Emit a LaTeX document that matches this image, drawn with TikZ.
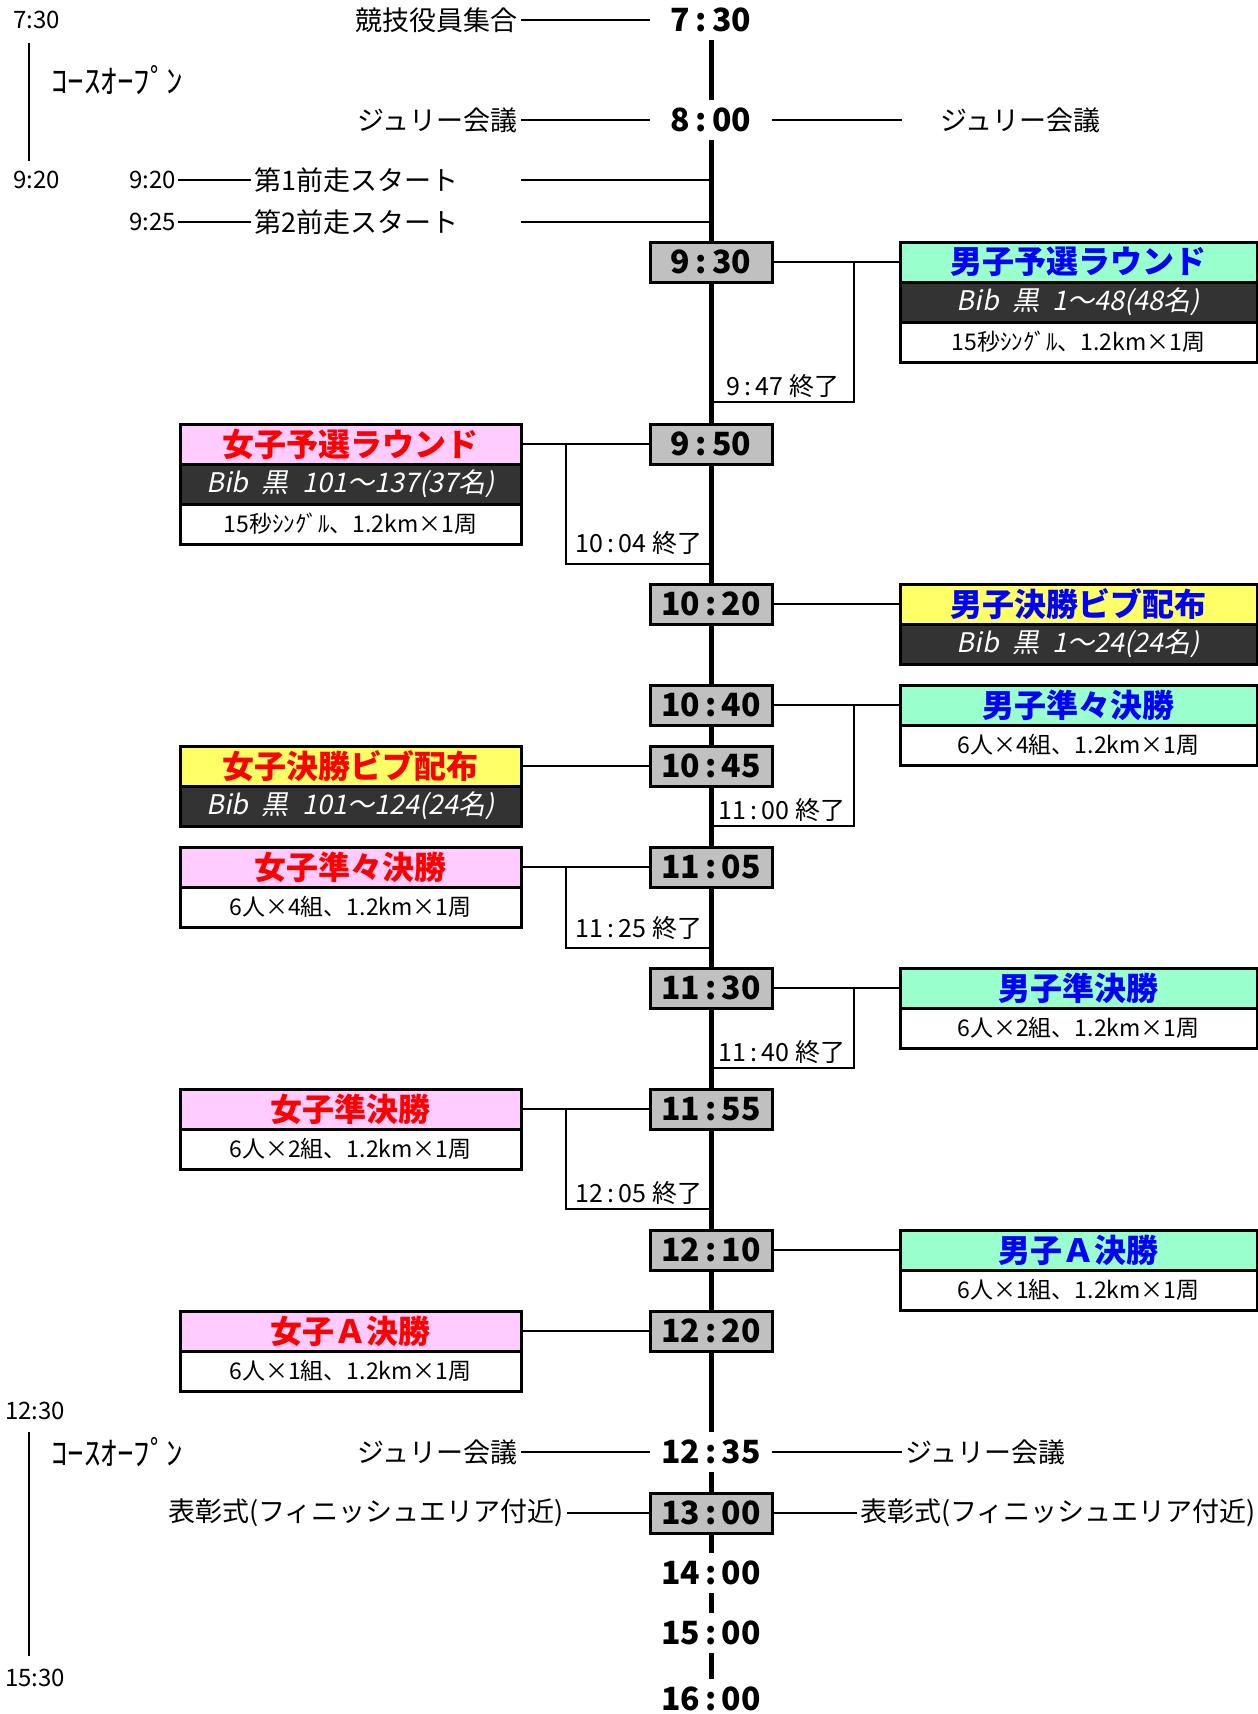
\documentclass[tikz,border=0pt]{standalone}
\usepackage{fontspec}
\setmainfont{Noto Sans CJK JP}
\newfontfamily\bibfont{Noto Sans CJK JP}[FakeSlant=0.2]
\usetikzlibrary{positioning,backgrounds}
\definecolor{boxgray}{HTML}{C0C0C0}
\definecolor{menfill}{HTML}{99FFCC}
\definecolor{womenfill}{HTML}{FFCCFF}
\definecolor{bibyellow}{HTML}{FFFF66}
\definecolor{bibdark}{HTML}{333333}
\definecolor{menblue}{HTML}{0000FF}
\definecolor{womenred}{HTML}{FF0000}

\begin{document}
\begin{tikzpicture}[x=1pt, y=-1pt,
  tlbl/.style={minimum width=122pt, minimum height=40pt, inner sep=0pt, font=\fontsize{32}{36}\selectfont\bfseries},
  tbox/.style={tlbl, draw, line width=3pt, fill=boxgray},
  row/.style={draw, line width=3pt, minimum height=40pt, inner sep=0pt, outer sep=0pt},
  rrow/.style={row, minimum width=357pt},
  lrow/.style={row, minimum width=341pt},
  ttl/.style={font=\fontsize{32}{36}\selectfont\bfseries},
  mtx/.style={text=menblue}, wtx/.style={text=womenred},
  mint/.style={fill=menfill}, pink/.style={fill=womenfill}, ylw/.style={fill=bibyellow},
  bib/.style={fill=bibdark, text=white, font=\fontsize{27}{30}\bibfont},
  det/.style={fill=white, font=\fontsize{23}{26}\selectfont},
  side/.style={inner sep=3pt, font=\fontsize{27}{30}\selectfont},
  lanelbl/.style={inner sep=0pt, font=\fontsize{24}{28}\selectfont},
  open/.style={inner sep=0pt, font=\fontsize{33}{36}\selectfont},
  done/.style={inner sep=1pt, font=\fontsize{25}{28}\selectfont},
  cn/.style={line width=2.5pt},
  br/.style={line width=2.2pt},
  lane/.style={line width=2pt},
  spine/.style={line width=5pt}]
\useasboundingbox (0,0) rectangle (1258,1714);
% the time axis
\node[tlbl] (t730) at (711,20) {7\,:\,30};
\node[tlbl] (t800) at (711,120) {8\,:\,00};
\node[tbox] (t930) at (711,262) {9\,:\,30};
\node[tbox] (t950) at (711,444) {9\,:\,50};
\node[tbox] (t1020) at (711,604) {10\,:\,20};
\node[tbox] (t1040) at (711,705) {10\,:\,40};
\node[tbox] (t1045) at (711,766) {10\,:\,45};
\node[tbox] (t1105) at (711,867) {11\,:\,05};
\node[tbox] (t1130) at (711,988) {11\,:\,30};
\node[tbox] (t1155) at (711,1109) {11\,:\,55};
\node[tbox] (t1210) at (711,1250) {12\,:\,10};
\node[tbox] (t1220) at (711,1331) {12\,:\,20};
\node[tlbl] (t1235) at (711,1452) {12\,:\,35};
\node[tbox] (t1300) at (711,1513) {13\,:\,00};
\node[tlbl] (t1400) at (711,1573) {14\,:\,00};
\node[tlbl] (t1500) at (711,1633) {15\,:\,00};
\node[tlbl] (t1600) at (711,1699) {16\,:\,00};
\begin{scope}[on background layer]
\draw[spine] (t730.south) -- (t800.north);
\draw[spine] (t800.south) -- (t1235.north);
\draw[spine] (t1235.south) -- (t1300.north);
\draw[spine] (t1300.south) -- (t1400.north);
\draw[spine] (t1400.south) -- (t1500.north);
\draw[spine] (t1500.south) -- (t1600.north);
\end{scope}
% course open, left margin
\node[lanelbl, anchor=west] (l730) at (13,20) {7:30};
\node[lanelbl, anchor=west] (l920) at (13,180) {9:20};
\node[lanelbl, anchor=west] (l1230) at (5,1411) {12:30};
\node[lanelbl, anchor=west] (l1530) at (5,1678) {15:30};
\node[open, anchor=west] (c1) at (51,80) {ｺｰｽｵｰﾌﾟﾝ};
\node[open, anchor=west] (c2) at (51,1452) {ｺｰｽｵｰﾌﾟﾝ};
\draw[lane, shorten <=14pt, shorten >=10pt] ([xshift=16pt]l730.south west) -- ([xshift=16pt]l920.north west);
\draw[lane, shorten <=12pt, shorten >=13pt] ([xshift=24pt]l1230.south west) -- ([xshift=24pt]l1530.north west);
% officials, jury, fore-runners
\node[side, anchor=east] (kyogi) at (521,20) {競技役員集合};
\draw[cn] (kyogi) -- (t730);
\node[side, anchor=east] (jl1) at (521,120) {ジュリー会議};
\node[side, anchor=west] (jr1) at (937,120) {ジュリー会議};
\draw[cn] (jl1) -- (t800);
\draw[cn, shorten >=35pt] (t800) -- (jr1);
\node[lanelbl, inner sep=2pt, anchor=east] (p1t) at (178,180) {9:20};
\node[side, anchor=west] (p1) at (251,180) {第1前走スタート};
\draw[cn] (p1t) -- (p1);
\coordinate (p1e) at (521,180);
\draw[cn] (p1e) -- (p1e -| t800);
\node[lanelbl, inner sep=2pt, anchor=east] (p2t) at (178,222) {9:25};
\node[side, anchor=west] (p2) at (251,222) {第2前走スタート};
\draw[cn] (p2t) -- (p2);
\coordinate (p2e) at (521,222);
\draw[cn] (p2e) -- (p2e -| t800);
% men, right column
\node[rrow, ttl, mtx, mint] (m1) at (1078.5,262) {男子予選ラウンド};
\node[rrow, bib, below=0pt of m1] (m1b) {Bib\enspace 黒\enspace 1～48(48名)};
\node[rrow, det, below=0pt of m1b] (m1d) {15秒ｼﾝｸﾞﾙ、1.2km×1周};
\node[rrow, ttl, mtx, ylw] (m2) at (1078.5,604) {男子決勝ビブ配布};
\node[rrow, bib, below=0pt of m2] (m2b) {Bib\enspace 黒\enspace 1～24(24名)};
\node[rrow, ttl, mtx, mint] (m3) at (1078.5,705) {男子準々決勝};
\node[rrow, det, below=0pt of m3] (m3d) {6人×4組、1.2km×1周};
\node[rrow, ttl, mtx, mint] (m4) at (1078.5,988) {男子準決勝};
\node[rrow, det, below=0pt of m4] (m4d) {6人×2組、1.2km×1周};
\node[rrow, ttl, mtx, mint] (m5) at (1078.5,1250) {男子Ａ決勝};
\node[rrow, det, below=0pt of m5] (m5d) {6人×1組、1.2km×1周};
\draw[cn] (t930) -- (m1);
\draw[cn] (t1020) -- (m2);
\draw[cn] (t1040) -- (m3);
\draw[cn] (t1130) -- (m4);
\draw[cn] (t1210) -- (m5);
% women, left column
\node[lrow, ttl, wtx, pink] (w1) at (350.5,444) {女子予選ラウンド};
\node[lrow, bib, below=0pt of w1] (w1b) {Bib\enspace 黒\enspace 101～137(37名)};
\node[lrow, det, below=0pt of w1b] (w1d) {15秒ｼﾝｸﾞﾙ、1.2km×1周};
\node[lrow, ttl, wtx, ylw] (w2) at (350.5,766) {女子決勝ビブ配布};
\node[lrow, bib, below=0pt of w2] (w2b) {Bib\enspace 黒\enspace 101～124(24名)};
\node[lrow, ttl, wtx, pink] (w3) at (350.5,867) {女子準々決勝};
\node[lrow, det, below=0pt of w3] (w3d) {6人×4組、1.2km×1周};
\node[lrow, ttl, wtx, pink] (w4) at (350.5,1109) {女子準決勝};
\node[lrow, det, below=0pt of w4] (w4d) {6人×2組、1.2km×1周};
\node[lrow, ttl, wtx, pink] (w5) at (350.5,1331) {女子Ａ決勝};
\node[lrow, det, below=0pt of w5] (w5d) {6人×1組、1.2km×1周};
\draw[cn] (w1) -- (t950);
\draw[cn] (w2) -- (t1045);
\draw[cn] (w3) -- (t1105);
\draw[cn] (w4) -- (t1155);
\draw[cn] (w5) -- (t1220);
% end of each round
\coordinate (e947) at (854,402);
\draw[br] (t930 -| e947) -- (e947) -- (e947 -| t930);
\node[done] (d947) at (783,386) {9\,:\,47 終了};
\coordinate (e1004) at (566,564);
\draw[br] (t950 -| e1004) -- (e1004) -- (e1004 -| t950);
\node[done] (d1004) at (639,543) {10\,:\,04 終了};
\coordinate (e1100) at (854,826);
\draw[br] (t1040 -| e1100) -- (e1100) -- (e1100 -| t1040);
\node[done] (d1100) at (782,810) {11\,:\,00 終了};
\coordinate (e1125) at (566,948);
\draw[br] (t1105 -| e1125) -- (e1125) -- (e1125 -| t1105);
\node[done] (d1125) at (639,928) {11\,:\,25 終了};
\coordinate (e1140) at (854,1068);
\draw[br] (t1130 -| e1140) -- (e1140) -- (e1140 -| t1130);
\node[done] (d1140) at (782,1052) {11\,:\,40 終了};
\coordinate (e1205) at (566,1209);
\draw[br] (t1155 -| e1205) -- (e1205) -- (e1205 -| t1155);
\node[done] (d1205) at (639,1193) {12\,:\,05 終了};
% afternoon
\node[side, anchor=east] (jl2) at (521,1452) {ジュリー会議};
\node[side, anchor=west] (jr2) at (902,1452) {ジュリー会議};
\draw[cn] (jl2) -- (t1235);
\draw[cn] (t1235) -- (jr2);
\node[side, anchor=east] (hl) at (567,1513) {表彰式(フィニッシュエリア付近)};
\node[side, anchor=west] (hr) at (857,1513) {表彰式(フィニッシュエリア付近)};
\draw[cn] (hl) -- (t1300);
\draw[cn] (t1300) -- (hr);
\end{tikzpicture}
\end{document}
